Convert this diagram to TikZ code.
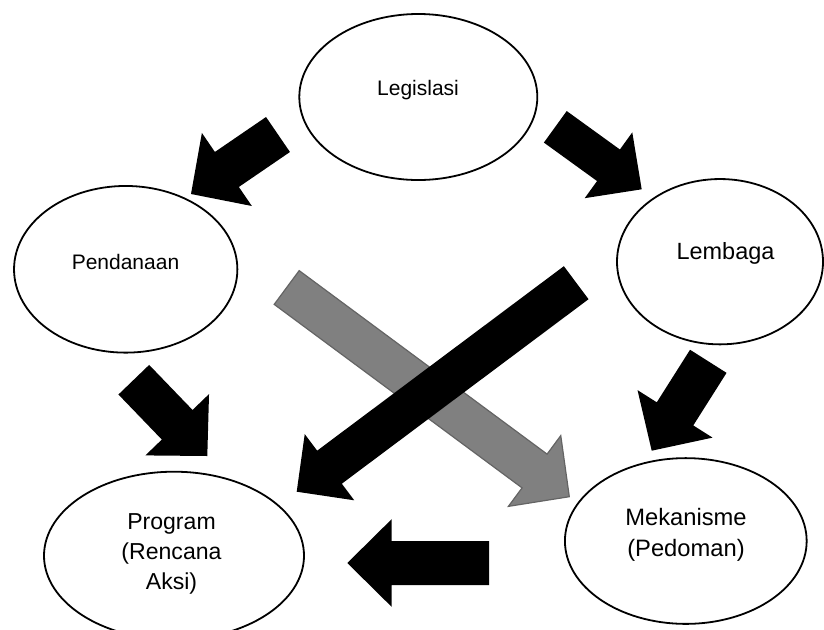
\documentclass[tikz,border=0pt]{standalone}
\usepackage{fontspec}
\setmainfont{Liberation Sans}
\usetikzlibrary{shapes.geometric,calc}
\definecolor{arrowgray}{RGB}{128,128,128}
\definecolor{edgegray}{RGB}{100,100,100}
% [style]{tail}{tip}{half shaft width}{half head width}{head length}
\newcommand\blockarrow[6][]{%
  \coordinate (#2b) at ($(#3)!#6!(#2)$);
  \path[#1] ($(#2)!#4!90:(#3)$) -- ($(#2b)!#4!-90:(#2)$) -- ($(#2b)!#5!-90:(#2)$)
    -- (#3) -- ($(#2b)!#5!90:(#2)$) -- ($(#2b)!#4!90:(#2)$) -- ($(#2)!#4!-90:(#3)$) -- cycle;
}
\begin{document}
\begin{tikzpicture}[x=0.75pt,y=-0.75pt,
  bubble/.style={ellipse,draw=black,line width=1.35pt,fill=white,inner sep=0pt,outer sep=0pt},
  lbl/.style={font=\fontsize{15.75pt}{19pt}\selectfont,align=center,inner sep=0pt},
  lblbig/.style={font=\fontsize{17.6pt}{22.8pt}\selectfont,align=center,inner sep=0pt},
  blk/.style={fill=black},
  gry/.style={fill=arrowgray,draw=edgegray,line width=0.9pt,line join=miter}]
\useasboundingbox (0,0) rectangle (824,629);

% ellipses
\node[bubble,minimum width=178.5pt,minimum height=124.5pt] (leg) at (418.3,97) {};
\node[bubble,minimum width=167.5pt,minimum height=125pt] (pen) at (125.7,269.3) {};
\node[bubble,minimum width=154.5pt,minimum height=124pt] (lem) at (720,261.7) {};
\node[bubble,minimum width=181.3pt,minimum height=124.3pt] (mek) at (685.8,541) {};
\node[bubble,minimum width=195pt,minimum height=126pt] (prog) at (174,555.7) {};

% labels
\node[lbl] (legt) at (418,90.5) {Legislasi};
\node[lbl] (pent) at (125.5,262) {Pendanaan};
\node[lblbig] (lemt) at (725.5,253.5) {Lembaga};
\node[lblbig,font=\fontsize{17.8pt}{23.25pt}\selectfont] (mekt) at (686,535) {Mekanisme\\(Pedoman)};
\node[lblbig,font=\fontsize{17.3pt}{22.5pt}\selectfont] (progt) at (171.5,553.5) {Program\\(Rencana\\Aksi)};

% arrow end points
\coordinate (a1t) at (278,134.5);   \coordinate (a1h) at (191,194);
\coordinate (a2t) at (555.3,126.8); \coordinate (a2h) at (641.7,189.3);
\coordinate (a3t) at (133.8,379.7); \coordinate (a3h) at (207.3,456);
\coordinate (a4t) at (708.3,361.3); \coordinate (a4h) at (651.7,450.7);
\coordinate (a5t) at (489,563);     \coordinate (a5h) at (347.3,563);
\coordinate (a6t) at (286.7,287.5); \coordinate (a6h) at (569.3,496.7);
\coordinate (a7t) at (576.2,282.7); \coordinate (a7h) at (296.7,491.7);

% block arrows
\blockarrow[blk]{a1t}{a1h}{15.9pt}{33.2pt}{32.6pt}
\blockarrow[blk]{a2t}{a2h}{14.6pt}{30.45pt}{30.75pt}
\blockarrow[blk]{a3t}{a3h}{16pt}{33.15pt}{32.55pt}
\blockarrow[blk]{a4t}{a4h}{16.2pt}{33.3pt}{32.7pt}
\blockarrow[blk]{a5t}{a5h}{16.5pt}{32.9pt}{33.3pt}
\blockarrow[gry]{a6t}{a6h}{15.75pt}{33pt}{32.4pt}
\blockarrow[blk]{a7t}{a7h}{15.45pt}{31pt}{30.7pt}
\end{tikzpicture}
\end{document}
